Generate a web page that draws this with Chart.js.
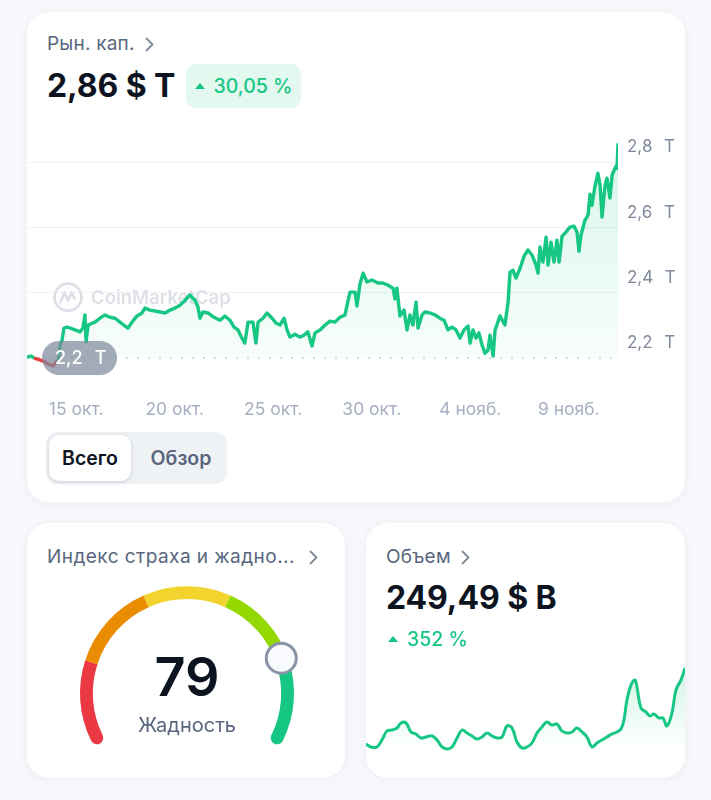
<!DOCTYPE html>
<html lang="ru">
<head>
<meta charset="utf-8">
<title>Рын. кап.</title>
<script src="https://cdn.jsdelivr.net/npm/chart.js@4.4.1/dist/chart.umd.min.js"></script>
<style>
  body { margin: 0; background: #F6F8FB; font-family: Inter, 'Noto Sans', sans-serif; }
  #page { position: relative; width: 711px; height: 800px; overflow: hidden; }
  .card { position: absolute; background: #fff; border-radius: 22px; box-shadow: 0 1px 10px rgba(88, 102, 126, 0.07); overflow: hidden; }
  .abs { position: absolute; white-space: nowrap; }
  .label { font-size: 19px; line-height: 22px; letter-spacing: 0.2px; color: #58667E; display: flex; align-items: center; gap: 10px; }
  .big { font-size: 32px; line-height: 38px; font-weight: 700; color: #0D1421; letter-spacing: -0.1px; }
  .up { font-size: 19.5px; line-height: 22px; font-weight: 500; color: #16C784; display: flex; align-items: center; gap: 9px; }
  .badge { background: #E3F8EF; border-radius: 10px; justify-content: center; }
  .seg { background: #EFF2F5; border-radius: 12px; }
  .seg div { position: absolute; top: 3px; height: 46px; line-height: 46px; font-size: 19.5px; font-weight: 600; text-align: center; }
  .seg .on { left: 3px; width: 82px; background: #fff; border-radius: 10px; color: #0D1421; box-shadow: 0 1px 4px rgba(88, 102, 126, 0.25); }
  .seg .off { left: 90px; width: 90px; color: #58667E; }
  canvas { position: absolute; }
</style>
</head>
<body>
<div id="page">

  <div class="card" style="left:27px; top:12px; width:658px; height:490px;">
    <div class="abs label" style="left:20px; top:21px;">Рын. кап.
      <svg width="9" height="15"><polyline points="1.5,1.5 7.5,7.5 1.5,13.5" fill="none" stroke="#808A9D" stroke-width="1.8" stroke-linecap="round" stroke-linejoin="round"/></svg>
    </div>
    <div class="abs big" style="left:20px; top:55px;">2,86 $ T</div>
    <div class="abs up badge" style="left:159px; top:52px; width:115px; height:44px;">
      <svg width="10" height="6"><polygon points="0,6 5,0 10,6" fill="#16C784"/></svg>30,05 %
    </div>
    <canvas id="capChart" width="658" height="314" style="left:0; top:99px; width:658px; height:314px;"></canvas>
    <div class="abs seg" style="left:19px; top:420px; width:181px; height:52px;">
      <div class="on">Всего</div>
      <div class="off">Обзор</div>
    </div>
  </div>

  <div class="card" style="left:27px; top:523px; width:318px; height:255px;">
    <div class="abs label" style="left:20px; top:23px; letter-spacing:0.45px;">Индекс страха и жадно...
      <svg width="9" height="15" style="margin-left:4px"><polyline points="1.5,1.5 7.5,7.5 1.5,13.5" fill="none" stroke="#808A9D" stroke-width="1.8" stroke-linecap="round" stroke-linejoin="round"/></svg>
    </div>
    <canvas id="fearChart" width="254" height="201" style="left:33px; top:43px; width:254px; height:201px;"></canvas>
    <div class="abs" style="left:1px; width:318px; top:124px; text-align:center; font-size:54px; line-height:60px; font-weight:600; color:#0D1421;">79</div>
    <div class="abs" style="left:1px; width:318px; top:190px; text-align:center; font-size:20px; line-height:24px; color:#58667E;">Жадность</div>
  </div>

  <div class="card" style="left:366px; top:523px; width:319px; height:255px;">
    <div class="abs label" style="left:20px; top:23px;">Объем
      <svg width="9" height="15"><polyline points="1.5,1.5 7.5,7.5 1.5,13.5" fill="none" stroke="#808A9D" stroke-width="1.8" stroke-linecap="round" stroke-linejoin="round"/></svg>
    </div>
    <div class="abs big" style="left:20px; top:56px;">249,49 $ B</div>
    <div class="abs up" style="left:22px; top:105px;">
      <svg width="10" height="6"><polygon points="0,6 5,0 10,6" fill="#16C784"/></svg>352 %
    </div>
    <canvas id="volChart" width="319" height="128" style="left:0; top:127px; width:319px; height:128px;"></canvas>
  </div>

</div>
<script>
// рыночная капитализация, трлн $ (x = день, 15 = 15 окт., 35 = 4 нояб.)
const capDays = [12.50, 12.70, 12.86, 13.16, 13.41, 13.67, 13.82, 13.97, 14.07, 14.18, 14.28, 14.38, 14.53, 14.68, 14.94,
  15.19, 15.34, 15.44, 15.50, 15.60, 15.95, 16.21, 16.46, 16.71, 16.97, 17.22, 17.47, 17.63, 17.83, 18.08, 18.34, 18.49,
  18.74, 19.00, 19.25, 19.51, 19.76, 20.01, 20.27, 20.52, 20.77, 21.03, 21.18, 21.28, 21.43, 21.69, 21.89, 22.09, 22.30,
  22.55, 22.80, 23.01, 23.21, 23.41, 23.56, 23.72, 23.97, 24.12, 24.23, 24.48, 24.68, 24.94, 25.14, 25.34, 25.55, 25.70,
  25.85, 26.10, 26.36, 26.56, 26.76, 26.97, 27.12, 27.37, 27.63, 27.88, 28.13, 28.39, 28.64, 28.79, 28.90, 29.15, 29.25,
  29.40, 29.56, 29.76, 30.01, 30.32, 30.57, 30.83, 31.08, 31.18, 31.28, 31.43, 31.64, 31.79, 31.94, 32.09, 32.25, 32.35,
  32.55, 32.70, 32.96, 33.21, 33.46, 33.67, 33.87, 34.07, 34.28, 34.48, 34.68, 34.89, 34.99, 35.14, 35.29, 35.44, 35.60,
  35.75, 35.90, 36.00, 36.16, 36.26, 36.51, 36.76, 36.92, 37.02, 37.17, 37.32, 37.53, 37.73, 37.93, 38.14, 38.34, 38.44,
  38.54, 38.69, 38.85, 38.95, 39.10, 39.25, 39.40, 39.51, 39.66, 39.86, 40.06, 40.27, 40.42, 40.52, 40.62, 40.82, 40.98,
  41.08, 41.18, 41.33, 41.48, 41.59, 41.69, 41.84, 41.94, 42.09, 42.20, 42.30, 42.40, 42.45, 42.50];
const capValues = [2.203, 2.206, 2.200, 2.194, 2.188, 2.179, 2.176, 2.188, 2.182, 2.240, 2.255, 2.292, 2.295, 2.292, 2.286,
  2.280, 2.292, 2.332, 2.249, 2.301, 2.310, 2.322, 2.332, 2.325, 2.322, 2.310, 2.298, 2.292, 2.310, 2.329, 2.338, 2.353,
  2.347, 2.344, 2.341, 2.338, 2.347, 2.353, 2.362, 2.377, 2.393, 2.377, 2.356, 2.322, 2.341, 2.338, 2.329, 2.322, 2.316,
  2.329, 2.316, 2.295, 2.286, 2.261, 2.246, 2.310, 2.310, 2.246, 2.310, 2.322, 2.338, 2.322, 2.307, 2.301, 2.322, 2.286,
  2.264, 2.273, 2.264, 2.270, 2.280, 2.237, 2.277, 2.286, 2.301, 2.313, 2.310, 2.325, 2.332, 2.374, 2.402, 2.402, 2.359,
  2.426, 2.460, 2.433, 2.439, 2.430, 2.430, 2.423, 2.414, 2.381, 2.414, 2.329, 2.347, 2.286, 2.332, 2.301, 2.371, 2.292,
  2.332, 2.341, 2.338, 2.332, 2.322, 2.316, 2.286, 2.295, 2.286, 2.261, 2.286, 2.298, 2.246, 2.286, 2.261, 2.277, 2.240,
  2.215, 2.224, 2.270, 2.206, 2.286, 2.329, 2.301, 2.371, 2.463, 2.469, 2.445, 2.475, 2.512, 2.531, 2.515, 2.485, 2.460,
  2.540, 2.494, 2.570, 2.485, 2.555, 2.494, 2.561, 2.494, 2.573, 2.586, 2.601, 2.604, 2.586, 2.527, 2.576, 2.622, 2.638,
  2.702, 2.668, 2.726, 2.766, 2.729, 2.632, 2.729, 2.751, 2.690, 2.760, 2.775, 2.788, 2.781, 2.858];
const capBase = 2.2;
const capTickDays = [15, 20, 25, 30, 35, 40];
const capTickLabels = ['15 окт.', '20 окт.', '25 окт.', '30 окт.', '4 нояб.', '9 нояб.'];
const capAxisTicks = [2.2, 2.4, 2.6, 2.8];

// объем, млрд $ (x = день от начала периода)
const volDays = [0, 0.47, 1.03, 1.50, 1.97, 2.45, 2.92, 3.29, 3.76, 4.23, 4.70, 5.17, 5.64, 6.21, 6.68, 7.15, 7.62, 8.09,
  8.56, 9.03, 9.50, 9.97, 10.44, 10.91, 11.38, 11.85, 12.32, 12.79, 13.26, 13.73, 14.20, 14.67, 15.14, 15.61, 16.08, 16.55,
  17.02, 17.49, 17.96, 18.43, 18.90, 19.37, 19.84, 20.31, 20.78, 21.25, 21.72, 22.19, 22.66, 23.13, 23.60, 23.98, 24.26,
  24.54, 24.92, 25.29, 25.48, 25.86, 26.33, 26.70, 27.08, 27.55, 27.93, 28.30, 28.77, 29.15, 29.62, 30.00];
const volValues = [55.2, 47.5, 47.5, 65.4, 88.4, 91.0, 96.1, 108.9, 108.9, 85.9, 80.7, 70.5, 73.1, 75.6, 65.4, 47.5, 42.4,
  47.5, 70.5, 91.0, 83.3, 75.6, 68.0, 73.1, 83.3, 75.6, 70.5, 73.1, 101.2, 96.1, 60.3, 45.0, 47.5, 57.7, 83.3, 98.6, 111.4,
  103.7, 106.3, 88.4, 83.3, 85.9, 96.1, 85.9, 73.1, 47.5, 57.7, 65.4, 73.1, 80.7, 85.9, 93.5, 116.5, 167.7, 206.0, 218.8,
  200.9, 147.2, 137.0, 126.8, 131.9, 121.7, 121.7, 101.2, 134.4, 193.2, 218.8, 249.5];

// индекс страха и жадности
const fearValue = 79;
const fearZones = [20, 20, 20, 20, 20];
const fearColors = ['#EA3943', '#EA8C00', '#F3D42F', '#93D900', '#16C784'];

const GREEN = '#16C784';
const RED = '#EA3943';

Chart.defaults.font.family = "Inter, 'Noto Sans', sans-serif";

const axisLabel = v => v.toFixed(1).replace('.', ',') + '\u2002\u2009T';

const watermark = {
  id: 'watermark',
  beforeDatasetsDraw(chart) {
    const { ctx, chartArea } = chart;
    const x = chartArea.left + 41;
    const y = chartArea.top + 167;
    ctx.save();
    ctx.strokeStyle = '#DCE0E6';
    ctx.lineWidth = 2.8;
    ctx.beginPath();
    ctx.arc(x, y, 13.5, 0, Math.PI * 2);
    ctx.stroke();
    ctx.beginPath();
    ctx.moveTo(x - 8, y + 6);
    ctx.lineTo(x - 3.5, y - 4);
    ctx.lineTo(x, y + 3);
    ctx.lineTo(x + 3.5, y - 4);
    ctx.lineTo(x + 7, y + 2);
    ctx.stroke();
    ctx.fillStyle = '#DEE1E7';
    ctx.font = "600 18.5px Inter, 'Noto Sans', sans-serif";
    ctx.textBaseline = 'middle';
    ctx.fillText('CoinMarketCap', x + 23, y + 1);
    ctx.restore();
  }
};

const basePill = {
  id: 'basePill',
  afterDatasetsDraw(chart) {
    const { ctx, chartArea, scales } = chart;
    const y = scales.y.getPixelForValue(capBase);
    const x = chartArea.left + 15;
    ctx.save();
    ctx.fillStyle = 'rgba(128, 138, 157, 0.72)';
    ctx.beginPath();
    ctx.roundRect(x, y - 17, 75, 34, 17);
    ctx.fill();
    ctx.fillStyle = '#fff';
    ctx.font = "500 18px Inter, 'Noto Sans', sans-serif";
    ctx.textBaseline = 'middle';
    ctx.fillText(axisLabel(capBase), x + 13, y + 1);
    ctx.restore();
  }
};

const capGradient = ctx => {
  const { chart } = ctx;
  const area = chart.chartArea;
  if (!area) return 'rgba(22, 199, 132, 0.08)';
  const g = chart.ctx.createLinearGradient(0, area.top, 0, chart.scales.y.getPixelForValue(capBase));
  g.addColorStop(0, 'rgba(22, 199, 132, 0.18)');
  g.addColorStop(1, 'rgba(22, 199, 132, 0.03)');
  return g;
};

new Chart(document.getElementById('capChart'), {
  type: 'line',
  data: {
    datasets: [
      {
        data: capDays.map((d, i) => ({ x: d, y: capValues[i] })),
        borderColor: GREEN,
        borderWidth: 3.4,
        borderJoinStyle: 'round',
        pointRadius: 0,
        tension: 0,
        backgroundColor: capGradient,
        fill: { target: { value: capBase }, below: 'rgba(234, 57, 67, 0.10)' },
        segment: {
          borderColor: ctx => (ctx.p0.parsed.y + ctx.p1.parsed.y) / 2 < capBase ? RED : GREEN
        }
      },
      {
        data: [{ x: capDays[0], y: capBase }, { x: capDays[capDays.length - 1], y: capBase }],
        borderColor: '#C9CFD9',
        borderWidth: 1.5,
        borderDash: [2, 9],
        pointRadius: 0,
        fill: false
      }
    ]
  },
  options: {
    responsive: false,
    animation: false,
    layout: { padding: { top: 10 } },
    plugins: { legend: { display: false }, tooltip: { enabled: false } },
    scales: {
      x: {
        type: 'linear',
        min: 12.5,
        max: 42.5,
        grid: { display: false },
        border: { display: false },
        afterBuildTicks: s => { s.ticks = capTickDays.map(v => ({ value: v })); },
        afterFit: s => { s.height = 50; },
        ticks: {
          padding: 16,
          color: '#A6AFC0',
          font: { size: 17.5 },
          maxRotation: 0,
          autoSkip: false,
          callback: (v, i) => capTickLabels[i]
        }
      },
      y: {
        position: 'right',
        min: 2.148,
        max: 2.898,
        border: { display: false },
        grid: {
          drawTicks: false,
          color: ctx => ctx.tick && ctx.tick.value === capBase ? 'rgba(0,0,0,0)' : '#EEF1F5'
        },
        afterBuildTicks: s => { s.ticks = capAxisTicks.map(v => ({ value: v })); },
        afterFit: s => { s.width = 67; },
        ticks: {
          padding: 9,
          labelOffset: -15,
          color: '#808A9D',
          font: { size: 17 },
          callback: v => axisLabel(v)
        }
      }
    }
  },
  plugins: [watermark, basePill]
});

const fearKnob = {
  id: 'fearKnob',
  afterDatasetsDraw(chart) {
    const arcs = chart.getDatasetMeta(0).data;
    const first = arcs[0];
    const last = arcs[arcs.length - 1];
    const a = first.startAngle + (last.endAngle - first.startAngle) * fearValue / 100;
    const r = (first.innerRadius + first.outerRadius) / 2;
    const { ctx } = chart;
    ctx.save();
    ctx.beginPath();
    ctx.arc(first.x + r * Math.cos(a), first.y + r * Math.sin(a), 15, 0, Math.PI * 2);
    ctx.fillStyle = '#F8FAFD';
    ctx.fill();
    ctx.lineWidth = 3;
    ctx.strokeStyle = '#8B94A6';
    ctx.stroke();
    ctx.restore();
  }
};

new Chart(document.getElementById('fearChart'), {
  type: 'doughnut',
  data: {
    labels: ['Крайний страх', 'Страх', 'Нейтрально', 'Жадность', 'Крайняя жадность'],
    datasets: [{
      data: fearZones,
      backgroundColor: fearColors,
      borderWidth: 0,
      hoverOffset: 0,
      offset: 0,
      borderRadius: ctx => {
        if (ctx.dataIndex === 0) return { outerStart: 7, innerStart: 7 };
        if (ctx.dataIndex === fearZones.length - 1) return { outerEnd: 7, innerEnd: 7 };
        return 0;
      }
    }]
  },
  options: {
    responsive: false,
    animation: false,
    rotation: -120,
    circumference: 240,
    cutout: '88%',
    layout: { padding: 20 },
    plugins: { legend: { display: false }, tooltip: { enabled: false } }
  },
  plugins: [fearKnob]
});

new Chart(document.getElementById('volChart'), {
  type: 'line',
  data: {
    datasets: [{
      data: volDays.map((d, i) => ({ x: d, y: volValues[i] })),
      borderColor: GREEN,
      borderWidth: 3,
      pointRadius: 0,
      tension: 0.4,
      fill: 'start',
      backgroundColor: ctx => {
        const area = ctx.chart.chartArea;
        if (!area) return 'rgba(22, 199, 132, 0.05)';
        const g = ctx.chart.ctx.createLinearGradient(0, area.top + 15, 0, area.top + 100);
        g.addColorStop(0, 'rgba(22, 199, 132, 0.2)');
        g.addColorStop(1, 'rgba(22, 199, 132, 0)');
        return g;
      }
    }]
  },
  options: {
    responsive: false,
    animation: false,
    layout: { padding: 0 },
    plugins: { legend: { display: false }, tooltip: { enabled: false } },
    scales: {
      x: { type: 'linear', display: false, min: 0, max: 30 },
      y: { display: false, min: -31.8, max: 295.5 }
    }
  }
});
</script>
</body>
</html>
